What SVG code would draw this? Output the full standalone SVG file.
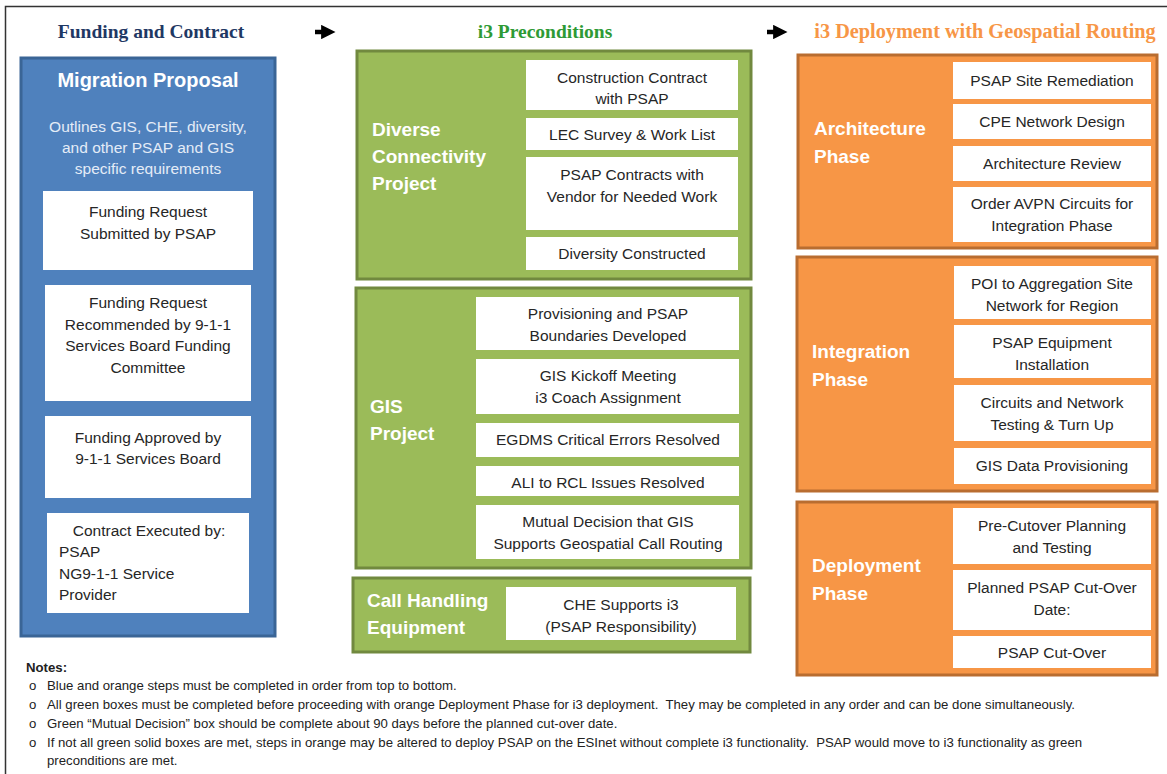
<svg xmlns="http://www.w3.org/2000/svg" width="1167" height="774" viewBox="0 0 1167 774">
<defs>
<marker id="ah" viewBox="0 0 10 10" refX="2" refY="5" markerWidth="3.2" markerHeight="3.2" orient="auto" markerUnits="strokeWidth">
<path d="M0,0 L10,5 L0,10 z" fill="#000"/>
</marker>
<style>
.hdr{font-family:"Liberation Serif",serif;font-weight:bold;font-size:19.5px;text-anchor:middle}
.blue{fill:#4f81bd;stroke:#3a6596;stroke-width:3}
.green{fill:#9bbb59;stroke:#71893f;stroke-width:3}
.orange{fill:#f79646;stroke:#b96d30;stroke-width:3}
.wb{fill:#fff}
.t{font-family:"Liberation Sans",Arial,sans-serif;font-size:15.5px;fill:#262626;text-anchor:middle}
.tl{font-family:"Liberation Sans",Arial,sans-serif;font-size:15.5px;fill:#262626}
.lbl{font-family:"Liberation Sans",Arial,sans-serif;font-size:19px;font-weight:bold;fill:#fff}
.note{font-family:"Liberation Sans",Arial,sans-serif;font-size:13.2px;fill:#222}
</style>
</defs>
<rect width="1167" height="774" fill="#fff"/>
<path d="M5.5,774 V6.5 H1167" fill="none" stroke="#333" stroke-width="1.5"/>

<text class="hdr" x="151" y="38" fill="#1f3864">Funding and Contract</text>
<text class="hdr" x="545" y="38" fill="#2e9a35">i3 Preconditions</text>
<text class="hdr" x="985" y="38" fill="#f79646" style="font-size:20.3px">i3 Deployment with Geospatial Routing</text>

<g id="connectors">
<path d="M315,32 H324" stroke="#000" stroke-width="4.5" marker-end="url(#ah)"/>
<path d="M767,32 H776" stroke="#000" stroke-width="4.5" marker-end="url(#ah)"/>
</g>

<g id="migration-proposal">
<rect class="blue" x="21" y="58" width="254" height="578"/>
<text x="148" y="87" font-family="Liberation Sans,Arial,sans-serif" font-size="20px" font-weight="bold" fill="#fff" text-anchor="middle">Migration Proposal</text>
<text class="t" x="148" y="132" style="fill:#e4ecf7">Outlines GIS, CHE, diversity,</text>
<text class="t" x="148" y="153" style="fill:#e4ecf7">and other PSAP and GIS</text>
<text class="t" x="148" y="174" style="fill:#e4ecf7">specific requirements</text>
</g>
<g id="funding-request-submitted">
<rect class="wb" x="43" y="191" width="210" height="79"/>
<text class="t" x="148" y="217">Funding Request</text>
<text class="t" x="148" y="239">Submitted by PSAP</text>
</g>
<g id="funding-request-recommended">
<rect class="wb" x="45" y="285" width="206" height="116"/>
<text class="t" x="148" y="308">Funding Request</text>
<text class="t" x="148" y="330">Recommended by 9-1-1</text>
<text class="t" x="148" y="351">Services Board Funding</text>
<text class="t" x="148" y="373">Committee</text>
</g>
<g id="funding-approved">
<rect class="wb" x="45" y="416" width="206" height="82"/>
<text class="t" x="148" y="443">Funding Approved by</text>
<text class="t" x="148" y="464">9-1-1 Services Board</text>
</g>
<g id="contract-executed">
<rect class="wb" x="47" y="513" width="202" height="100"/>
<text class="t" x="149" y="536">Contract Executed by:</text>
<text class="tl" x="59" y="557">PSAP</text>
<text class="tl" x="59" y="579">NG9-1-1 Service</text>
<text class="tl" x="59" y="600">Provider</text>
</g>

<g id="diverse-connectivity">
<rect class="green" x="357" y="51" width="394" height="228"/>
<text class="lbl" x="372" y="136">Diverse</text>
<text class="lbl" x="372" y="163">Connectivity</text>
<text class="lbl" x="372" y="190">Project</text>
</g>
<g id="construction-contract">
<rect class="wb" x="526" y="60" width="212" height="50"/>
<text class="t" x="632" y="83">Construction Contract</text>
<text class="t" x="632" y="104">with PSAP</text>
</g>
<g id="lec-survey">
<rect class="wb" x="526" y="118" width="212" height="32"/>
<text class="t" x="632" y="140">LEC Survey &amp; Work List</text>
</g>
<g id="psap-contracts">
<rect class="wb" x="526" y="157" width="212" height="73"/>
<text class="t" x="632" y="180">PSAP Contracts with</text>
<text class="t" x="632" y="202">Vendor for Needed Work</text>
</g>
<g id="diversity-constructed">
<rect class="wb" x="526" y="237" width="212" height="33"/>
<text class="t" x="632" y="259">Diversity Constructed</text>
</g>

<g id="gis-project">
<rect class="green" x="356" y="288" width="395" height="280"/>
<text class="lbl" x="370" y="413">GIS</text>
<text class="lbl" x="370" y="440">Project</text>
</g>
<g id="provisioning-boundaries">
<rect class="wb" x="476" y="297" width="263" height="53"/>
<text class="t" x="608" y="319">Provisioning and PSAP</text>
<text class="t" x="608" y="341">Boundaries Developed</text>
</g>
<g id="gis-kickoff">
<rect class="wb" x="476" y="359" width="263" height="55"/>
<text class="t" x="608" y="381">GIS Kickoff Meeting</text>
<text class="t" x="608" y="403">i3 Coach Assignment</text>
</g>
<g id="egdms-errors">
<rect class="wb" x="476" y="423" width="263" height="34"/>
<text class="t" x="608" y="445">EGDMS Critical Errors Resolved</text>
</g>
<g id="ali-rcl">
<rect class="wb" x="476" y="466" width="263" height="30"/>
<text class="t" x="608" y="488">ALI to RCL Issues Resolved</text>
</g>
<g id="mutual-decision">
<rect class="wb" x="476" y="505" width="263" height="54"/>
<text class="t" x="608" y="527">Mutual Decision that GIS</text>
<text class="t" x="608" y="549">Supports Geospatial Call Routing</text>
</g>

<g id="call-handling">
<rect class="green" x="353" y="578" width="397" height="74"/>
<text class="lbl" x="367" y="607">Call Handling</text>
<text class="lbl" x="367" y="634">Equipment</text>
</g>
<g id="che-supports">
<rect class="wb" x="506" y="587" width="230" height="53"/>
<text class="t" x="621" y="610">CHE Supports i3</text>
<text class="t" x="621" y="632">(PSAP Responsibility)</text>
</g>

<g id="architecture-phase">
<rect class="orange" x="798" y="55" width="359" height="193"/>
<text class="lbl" x="814" y="135">Architecture</text>
<text class="lbl" x="814" y="163">Phase</text>
</g>
<g id="site-remediation">
<rect class="wb" x="953" y="62" width="198" height="37"/>
<text class="t" x="1052" y="86">PSAP Site Remediation</text>
</g>
<g id="cpe-network-design">
<rect class="wb" x="953" y="104" width="198" height="35"/>
<text class="t" x="1052" y="127">CPE Network Design</text>
</g>
<g id="architecture-review">
<rect class="wb" x="953" y="146" width="198" height="35"/>
<text class="t" x="1052" y="169">Architecture Review</text>
</g>
<g id="order-avpn">
<rect class="wb" x="953" y="187" width="198" height="55"/>
<text class="t" x="1052" y="209">Order AVPN Circuits for</text>
<text class="t" x="1052" y="231">Integration Phase</text>
</g>

<g id="integration-phase">
<rect class="orange" x="797" y="257" width="360" height="234"/>
<text class="lbl" x="812" y="358">Integration</text>
<text class="lbl" x="812" y="386">Phase</text>
</g>
<g id="poi-aggregation">
<rect class="wb" x="954" y="266" width="197" height="53"/>
<text class="t" x="1052" y="289">POI to Aggregation Site</text>
<text class="t" x="1052" y="311">Network for Region</text>
</g>
<g id="psap-equipment">
<rect class="wb" x="954" y="325" width="197" height="53"/>
<text class="t" x="1052" y="348">PSAP Equipment</text>
<text class="t" x="1052" y="370">Installation</text>
</g>
<g id="circuits-testing">
<rect class="wb" x="954" y="385" width="197" height="56"/>
<text class="t" x="1052" y="408">Circuits and Network</text>
<text class="t" x="1052" y="430">Testing &amp; Turn Up</text>
</g>
<g id="gis-data-provisioning">
<rect class="wb" x="954" y="448" width="197" height="36"/>
<text class="t" x="1052" y="471">GIS Data Provisioning</text>
</g>

<g id="deployment-phase">
<rect class="orange" x="797" y="502" width="360" height="173"/>
<text class="lbl" x="812" y="572">Deployment</text>
<text class="lbl" x="812" y="600">Phase</text>
</g>
<g id="pre-cutover">
<rect class="wb" x="953" y="508" width="198" height="56"/>
<text class="t" x="1052" y="531">Pre-Cutover Planning</text>
<text class="t" x="1052" y="553">and Testing</text>
</g>
<g id="planned-cutover">
<rect class="wb" x="953" y="570" width="198" height="60"/>
<text class="t" x="1052" y="593">Planned PSAP Cut-Over</text>
<text class="t" x="1052" y="615">Date:</text>
</g>
<g id="psap-cutover">
<rect class="wb" x="953" y="636" width="198" height="32"/>
<text class="t" x="1052" y="658">PSAP Cut-Over</text>
</g>

<g id="notes">
<text class="note" x="26" y="672" font-weight="bold">Notes:</text>
<text class="note" x="29" y="690">o</text>
<text class="note" x="47" y="690">Blue and orange steps must be completed in order from top to bottom.</text>
<text class="note" x="29" y="709">o</text>
<text class="note" x="47" y="709" xml:space="preserve">All green boxes must be completed before proceeding with orange Deployment Phase for i3 deployment.  They may be completed in any order and can be done simultaneously.</text>
<text class="note" x="29" y="728">o</text>
<text class="note" x="47" y="728">Green “Mutual Decision” box should be complete about 90 days before the planned cut-over date.</text>
<text class="note" x="29" y="747">o</text>
<text class="note" x="47" y="747" xml:space="preserve">If not all green solid boxes are met, steps in orange may be altered to deploy PSAP on the ESInet without complete i3 functionality.  PSAP would move to i3 functionality as green</text>
<text class="note" x="47" y="765">preconditions are met.</text>
</g>
</svg>
